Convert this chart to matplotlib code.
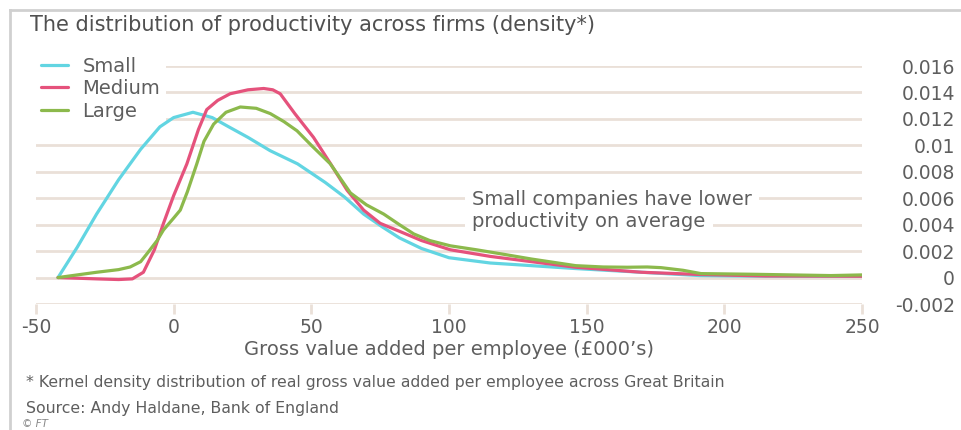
import numpy as np
import matplotlib
matplotlib.use("Agg")
import matplotlib.pyplot as plt
from matplotlib.lines import Line2D

plt.rcParams['font.family'] = ['DejaVu Sans']

# --- data (x in £000's, y density)
small_x = [-42, -35, -28, -20, -12, -5, 0, 7, 14, 20, 27, 35, 45, 55, 62, 69, 76, 82, 90,
           100, 115, 130, 146, 170, 191, 215, 240, 250]
small_y = [0, 0.0023, 0.0048, 0.0074, 0.0097, 0.0114, 0.0121, 0.0125, 0.0121, 0.0114, 0.0106,
           0.0096, 0.0086, 0.0072, 0.0061, 0.0048, 0.0038, 0.0030, 0.0022, 0.0015, 0.0011,
           0.0009, 0.00068, 0.0004, 0.00015, 0.0001, 0.0001, 0.0001]

medium_x = [-42, -35, -28, -20, -15, -11, -7, -3.7, 0, 4.8, 9, 12, 16, 20.5, 27, 32.7, 36, 38.7,
            44, 50.8, 57, 63, 69, 75, 82, 90, 100.5, 115, 130, 146, 170, 191.5, 215, 250]
medium_y = [0, -0.00005, -0.0001, -0.00015, -0.0001, 0.0004, 0.0021, 0.0041, 0.0062, 0.0086,
            0.0112, 0.0127, 0.0134, 0.0139, 0.0142, 0.0143, 0.0142, 0.0139, 0.0124, 0.0106,
            0.0086, 0.0066, 0.0051, 0.0041, 0.0035, 0.0028, 0.0021, 0.0016, 0.0012, 0.00078,
            0.0004, 0.00023, 0.00012, 0.0001]

large_x = [-42, -35, -28, -20, -15.8, -12, -9.7, -6, -3.7, 0, 2.4, 5, 8.4, 11, 14.5, 19, 24.2,
           30, 35.1, 40, 44.8, 50, 56.9, 64.2, 70, 76.3, 82, 87.2, 93, 100.5, 110, 118.7, 130,
           146, 156, 164.8, 172, 177, 185, 191.5, 210, 238.7, 250]
large_y = [0, 0.0002, 0.0004, 0.0006, 0.0008, 0.0012, 0.0018, 0.0028, 0.0036, 0.0045, 0.0051,
           0.0065, 0.0086, 0.0103, 0.0116, 0.0125, 0.0129, 0.0128, 0.0124, 0.0118, 0.0111,
           0.0100, 0.0086, 0.0064, 0.0055, 0.0048, 0.0040, 0.0033, 0.0028, 0.0024, 0.0021,
           0.0018, 0.0014, 0.0009, 0.0008, 0.00078, 0.0008, 0.00075, 0.00055, 0.0003, 0.00025,
           0.00015, 0.0002]

x_ticks = [-50, 0, 50, 100, 150, 200, 250]
y_ticks = [-0.002, 0, 0.002, 0.004, 0.006, 0.008, 0.01, 0.012, 0.014, 0.016]
y_labels = ['-0.002', '0', '0.002', '0.004', '0.006', '0.008', '0.01', '0.012', '0.014', '0.016']
note_lines = ['Small companies have lower', 'productivity on average']
note_y = [0.0059, 0.00425]

txt = '#5e5e5e'
grid_c = '#eae0d8'

W, H = 962, 430
fig = plt.figure(figsize=(W / 100, H / 100), dpi=100)
ax = fig.add_axes([36 / W, 1 - 304 / H, (862 - 36) / W, (304 - 66) / H])

for yv in y_ticks:
    ax.axhline(yv, color=grid_c, lw=2, zorder=1)

ax.plot(small_x, small_y, color='#62d5e2', lw=2.3, label='Small', zorder=3,
        solid_joinstyle='round', solid_capstyle='round')
ax.plot(medium_x, medium_y, color='#e5527c', lw=2.3, label='Medium', zorder=4,
        solid_joinstyle='round', solid_capstyle='round')
ax.plot(large_x, large_y, color='#8cb94c', lw=2.3, label='Large', zorder=5,
        solid_joinstyle='round', solid_capstyle='round')

ax.set_xlim(-50, 250)
ax.set_ylim(-0.002, 0.016)
for s in ax.spines.values():
    s.set_visible(False)

ax.set_xticks(x_ticks)
ax.set_xticklabels([str(v) for v in x_ticks])
ax.tick_params(axis='x', length=7, width=2, color=grid_c, labelcolor=txt, labelsize=13.5, pad=3)

ax.yaxis.tick_right()
ax.set_yticks(y_ticks)
ax.set_yticklabels(y_labels)
ax.tick_params(axis='y', length=0, labelcolor=txt, labelsize=13.5, pad=67)
for lab in ax.get_yticklabels():
    lab.set_horizontalalignment('right')

ax.set_xlabel('Gross value added per employee (£000\u2019s)', color=txt, fontsize=14, labelpad=2)

# legend sits above the grid but under the curves
leg = ax.legend(loc='upper left', bbox_to_anchor=(-0.013, 1.105), frameon=True, fontsize=14,
                handlelength=1.4, handletextpad=0.75, labelspacing=0.18, borderpad=0.3)
leg.get_frame().set_facecolor('white')
leg.get_frame().set_edgecolor('none')
leg.get_frame().set_alpha(1)
for t in leg.get_texts():
    t.set_color(txt)
leg.set_zorder(2)

# white knock-out behind each note line, then the text on top
box = dict(facecolor='white', edgecolor='none', pad=5)
for line, yv in zip(note_lines, note_y):
    ax.text(108.5, yv, line, color=(1, 1, 1, 0), fontsize=14, va='center', bbox=box, zorder=6)
    ax.text(108.5, yv, line, color=txt, fontsize=14, va='center', zorder=7)

fig.text(30 / W, 1 - 25 / H, 'The distribution of productivity across firms (density*)',
         color='#505050', fontsize=15, va='center')
fig.text(26 / W, 1 - 382 / H,
         '* Kernel density distribution of real gross value added per employee across Great Britain',
         color=txt, fontsize=11.3, va='center')
fig.text(26 / W, 1 - 408 / H, 'Source: Andy Haldane, Bank of England', color=txt, fontsize=11.3,
         va='center')
fig.text(22 / W, 1 - 424 / H, '\u00a9 FT', color='#888888', fontsize=7.5, style='italic',
         va='center')

# light frame at left and top
fig.add_artist(Line2D([10 / W, 10 / W], [0, 1 - 10 / H], color='#d0d0d0', lw=2,
                      transform=fig.transFigure))
fig.add_artist(Line2D([10 / W, 1], [1 - 10 / H, 1 - 10 / H], color='#d0d0d0', lw=2,
                      transform=fig.transFigure))

fig.savefig('out.png', dpi=100, facecolor='white')
